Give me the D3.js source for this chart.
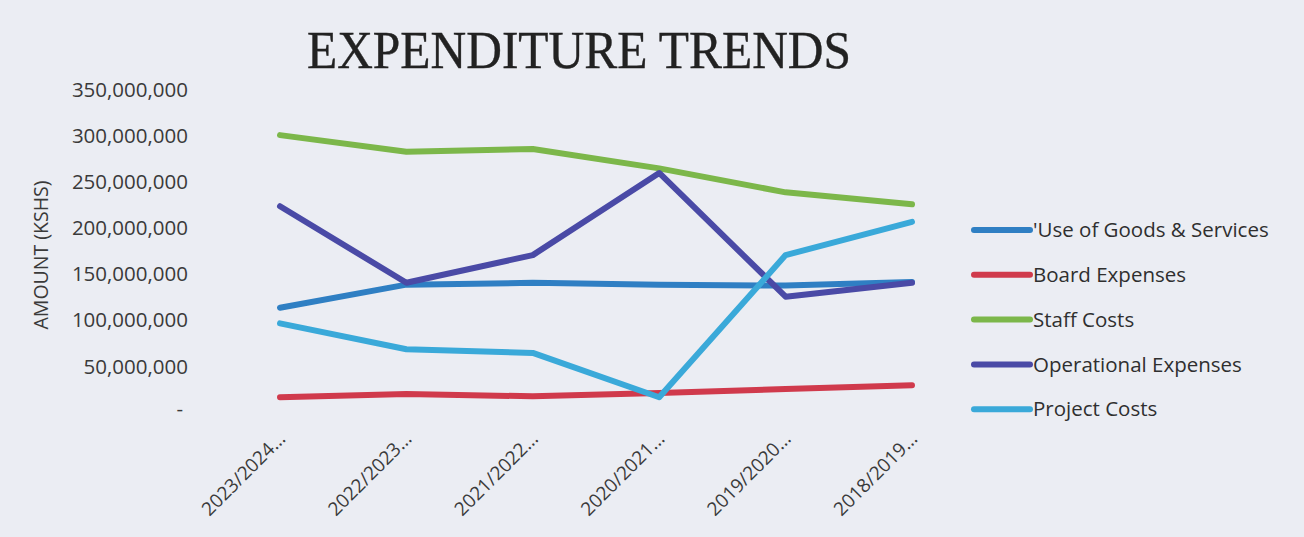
<!DOCTYPE html>
<html><head><meta charset="utf-8">
<script src="https://cdn.jsdelivr.net/npm/d3@7"></script>
<style>html,body{margin:0;padding:0;background:#ebedf3;}svg{display:block;}</style>
</head><body>
<svg id="c" width="1304" height="537"></svg>
<script>
const categories = ["2023/2024...","2022/2023...","2021/2022...","2020/2021...","2019/2020...","2018/2019..."];
const useOfGoods = [113e6,138e6,140e6,138e6,137e6,141e6];
const boardExpenses = [16e6,19.5e6,17e6,20.5e6,25e6,29e6];
const staffCosts = [300e6,282e6,285e6,264e6,238e6,225e6];
const operationalExpenses = [223e6,140e6,170e6,259e6,125e6,140e6];
const projectCosts = [96e6,68e6,64e6,16e6,170e6,206e6];
const seriesNames = ["'Use of Goods & Services","Board Expenses","Staff Costs","Operational Expenses","Project Costs"];
const yTicks = [0,50e6,100e6,150e6,200e6,250e6,300e6,350e6];

const seriesData = [useOfGoods, boardExpenses, staffCosts, operationalExpenses, projectCosts];
const colors = ["#2f7fc3","#d03a4c","#7cb74a","#4a4aa6","#3aa9d9"];

const svg = d3.select("#c");
const x = d3.scalePoint().domain(categories).range([280, 912]);
const y = d3.scaleLinear().domain([0, 350e6]).range([412, 89]);

// title
svg.append("text").attr("x", 307).attr("y", 68)
  .attr("font-family", "Liberation Serif, DejaVu Serif, serif").attr("font-size", 52)
  .attr("fill", "#222").attr("stroke", "#222").attr("stroke-width", 0.4)
  .attr("textLength", 544).attr("lengthAdjust", "spacingAndGlyphs")
  .text("EXPENDITURE TRENDS");

// y axis
const fmt = d3.format(",");
const yAxis = d3.axisLeft(y).tickValues(yTicks).tickSize(0).tickPadding(0)
  .tickFormat(d => d === 0 ? "-" : fmt(d));
const gy = svg.append("g").attr("transform", "translate(188,0)").call(yAxis);
gy.select(".domain").remove();
gy.selectAll("text").attr("font-family", "Open Sans, sans-serif").attr("font-size", 20.5)
  .attr("fill", "#3a3a3a").attr("dy", "0.35em");
gy.selectAll("text").filter(d => d === 0).attr("dx", "-5").attr("dy","0.15em");

// y axis title
svg.append("text").attr("transform", "translate(48,255) rotate(-90)")
  .attr("text-anchor", "middle").attr("font-family", "Open Sans, sans-serif")
  .attr("font-size", 19.5).attr("fill", "#3a3a3a").text("AMOUNT (KSHS)");

// x axis labels
const xAxis = d3.axisBottom(x).tickSize(0).tickPadding(0);
const gx = svg.append("g").attr("transform", "translate(0,426)").call(xAxis);
gx.select(".domain").remove();
gx.selectAll("text").attr("font-family", "Open Sans, sans-serif").attr("font-size", 19)
  .attr("fill", "#3a3a3a").attr("text-anchor", "end").attr("dy", "0")
  .attr("transform", "translate(6,14) rotate(-45)");

// lines
const line = d3.line().x((d, i) => x(categories[i])).y(d => y(d));
seriesData.forEach((s, k) => {
  svg.append("path").datum(s).attr("d", line).attr("fill", "none")
    .attr("stroke", colors[k]).attr("stroke-width", 6)
    .attr("stroke-linecap", "round").attr("stroke-linejoin", "round");
});

// legend
const lg = svg.append("g");
seriesNames.forEach((n, k) => {
  const ly = 230 + k * 44.8;
  lg.append("line").attr("x1", 974).attr("x2", 1030).attr("y1", ly).attr("y2", ly)
    .attr("stroke", colors[k]).attr("stroke-width", 6).attr("stroke-linecap", "round");
  lg.append("text").attr("x", 1033).attr("y", ly).attr("dy", "0.35em")
    .attr("font-family", "Open Sans, sans-serif").attr("font-size", 20.5)
    .attr("fill", "#2f2f2f").text(n);
});
</script>
</body></html>
